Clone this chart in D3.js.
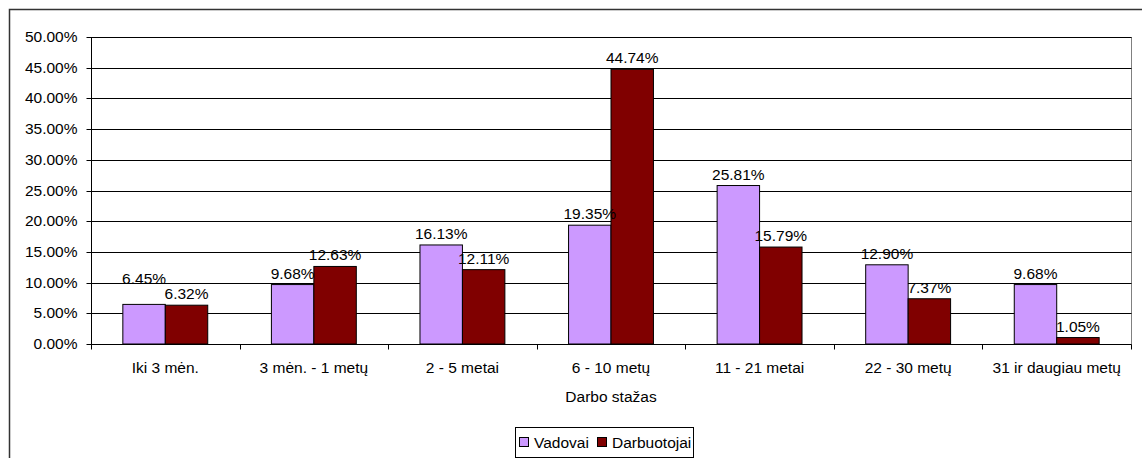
<!DOCTYPE html>
<html><head><meta charset="utf-8">
<script src="https://cdn.jsdelivr.net/npm/d3@7"></script>
<style>body{margin:0;background:#fff}svg{display:block}text{font-family:"Liberation Sans",Arial,sans-serif;fill:#000}</style>
</head><body><svg id="c" width="1142" height="458"></svg>
<script>
const categories = ["Iki 3 mėn.", "3 mėn. - 1 metų", "2 - 5 metai", "6 - 10 metų", "11 - 21 metai", "22 - 30 metų", "31 ir daugiau metų"];
const seriesNames = ["Vadovai", "Darbuotojai"];
const vadovai = [6.45, 9.68, 16.13, 19.35, 25.81, 12.90, 9.68];
const darbuotojai = [6.32, 12.63, 12.11, 44.74, 15.79, 7.37, 1.05];
const yTicks = [0, 5, 10, 15, 20, 25, 30, 35, 40, 45, 50];
const colors = ["#CC99FF", "#800000"];
const xTitle = "Darbo stažas";

const svg = d3.select("#c");
const fs = 15.5;
// outer border
svg.append("rect").attr("x", 9.5).attr("y", 9.5).attr("width", 1200).attr("height", 600)
  .attr("fill", "none").attr("stroke", "#333").attr("stroke-width", 1.5);

const L = 91, R = 1131, T = 37, B = 344;
const x0 = d3.scaleBand().domain(categories).range([L, R]).paddingInner(0).paddingOuter(0);
const y = d3.scaleLinear().domain([0, 50]).range([B, T]);
const bw = x0.bandwidth() / 3.5;

// plot area border
svg.append("rect").attr("x", L + 0.5).attr("y", T + 0.5).attr("width", R - L).attr("height", B - T)
  .attr("fill", "none").attr("stroke", "#808080").attr("stroke-width", 1);

// gridlines
svg.append("g").selectAll("line").data(yTicks.slice(1)).join("line")
  .attr("x1", L).attr("x2", R + 0.5)
  .attr("y1", d => Math.round(y(d)) + 0.5).attr("y2", d => Math.round(y(d)) + 0.5)
  .attr("stroke", "#000").attr("stroke-width", 1);

// y axis
const ya = svg.append("g").attr("transform", `translate(${L + 0.5},0)`)
  .call(d3.axisLeft(y).tickValues(yTicks).tickSize(5).tickPadding(9).tickFormat(d => d.toFixed(2) + "%"));
ya.select(".domain").attr("stroke", "#000").attr("d", `M0,${T}V${B + 0.5}`);
ya.selectAll(".tick line").attr("stroke", "#000");
ya.selectAll(".tick").attr("transform", d => `translate(0,${Math.round(y(d)) + 0.5})`);
ya.selectAll("text").attr("font-size", fs).attr("font-family", "Liberation Sans, Arial, sans-serif").attr("fill", "#000");

// x axis
const xa = svg.append("g").attr("transform", `translate(0,${B + 0.5})`);
xa.append("line").attr("x1", L).attr("x2", R + 0.5).attr("y1", 0).attr("y2", 0).attr("stroke", "#000");
const bounds = d3.range(categories.length + 1).map(i => L + i * x0.bandwidth());
xa.selectAll(".tk").data(bounds).join("line").attr("class", "tk")
  .attr("x1", d => Math.round(d) + 0.5).attr("x2", d => Math.round(d) + 0.5).attr("y1", 0).attr("y2", 5).attr("stroke", "#000");
xa.selectAll(".cl").data(categories).join("text").attr("class", "cl")
  .attr("x", d => x0(d) + x0.bandwidth() / 2).attr("y", 28.5).attr("text-anchor", "middle")
  .attr("font-size", fs).text(d => d);

svg.append("text").attr("x", (L + R) / 2).attr("y", 402).attr("text-anchor", "middle")
  .attr("font-size", fs).text(xTitle);

// bars
const series = [vadovai, darbuotojai];
series.forEach((vals, si) => {
  svg.append("g").selectAll("rect").data(vals).join("rect")
    .attr("x", (d, i) => x0(categories[i]) + bw * 0.75 + si * bw)
    .attr("y", d => y(d)).attr("width", bw).attr("height", d => B - y(d))
    .attr("fill", colors[si]).attr("stroke", "#000").attr("stroke-width", 1);
});

// data labels with simple collision avoidance inside each category
const lblGap = 6;
categories.forEach((c, i) => {
  let ys = series.map(vals => y(vals[i]) - lblGap);
  if (Math.abs(ys[0] - ys[1]) < fs) {
    const hi = ys[0] <= ys[1] ? 0 : 1, lo = 1 - hi;
    ys[hi] = ys[lo] - fs;
  }
  series.forEach((vals, si) => {
    svg.append("text")
      .attr("x", x0(c) + bw * 0.75 + si * bw + bw / 2)
      .attr("y", ys[si]).attr("text-anchor", "middle").attr("font-size", fs)
      .text(vals[i].toFixed(2) + "%");
  });
});

// legend
const lg = svg.append("g").attr("transform", "translate(515,427)");
lg.append("rect").attr("x", 0.5).attr("y", 0.5).attr("width", 178).attr("height", 30)
  .attr("fill", "#fff").attr("stroke", "#000");
const items = [{n: seriesNames[0], c: colors[0], x: 4}, {n: seriesNames[1], c: colors[1], x: 82}];
items.forEach(it => {
  lg.append("rect").attr("x", it.x + 0.5).attr("y", 10.5).attr("width", 9).attr("height", 9)
    .attr("fill", it.c).attr("stroke", "#000");
  lg.append("text").attr("x", it.x + 15).attr("y", 20.5).attr("font-size", fs).text(it.n);
});
</script></body></html>
